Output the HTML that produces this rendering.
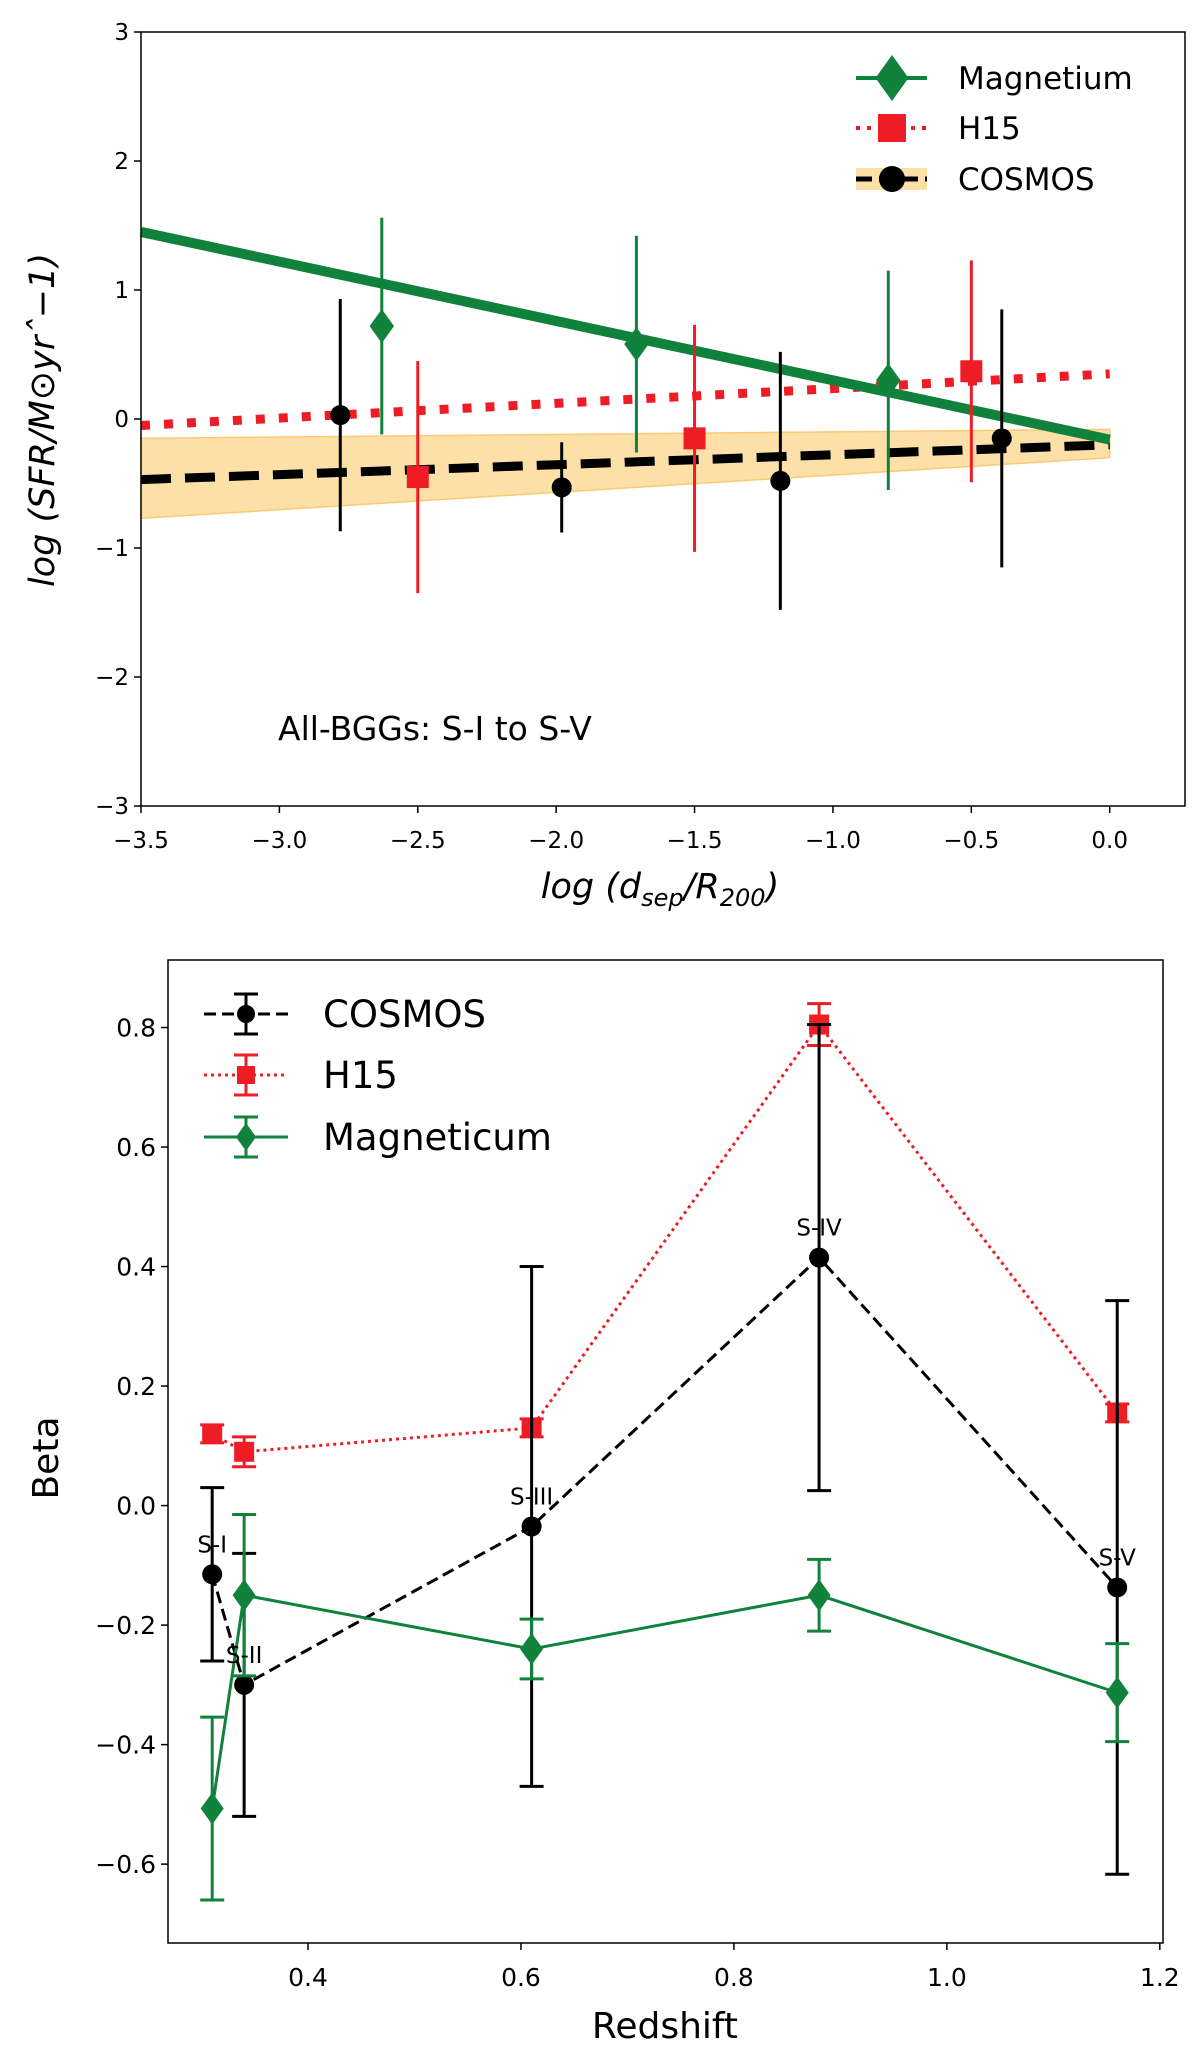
<!DOCTYPE html>
<html><head><meta charset="utf-8"><style>
body{margin:0;background:#fff}
svg{display:block}
text{font-family:"DejaVu Sans","Liberation Sans",sans-serif;fill:#000}
</style></head><body>
<svg id="c" width="1200" height="2067" xmlns="http://www.w3.org/2000/svg"></svg>
<script>
// ---- Top panel data ----
const topXTicks=[-3.5,-3.0,-2.5,-2.0,-1.5,-1.0,-0.5,0.0];
const topYTicks=[-3,-2,-1,0,1,2,3];
const cosX=[-2.78,-1.98,-1.19,-0.39];
const cosY=[0.03,-0.53,-0.48,-0.15];
const cosE=[0.9,0.35,1.0,1.0];
const h15X=[-2.5,-1.5,-0.5];
const h15Y=[-0.45,-0.15,0.37];
const h15E=[0.9,0.88,0.86];
const magX=[-2.63,-1.71,-0.8];
const magY=[0.72,0.58,0.3];
const magE=[0.84,0.84,0.85];
const fitX=[-3.5,0];
const magFit=[1.45,-0.16];
const h15Fit=[-0.05,0.35];
const cosFit=[-0.47,-0.2];
const bandLo=[-0.77,-0.3];
const bandHi=[-0.15,-0.08];
// ---- Bottom panel data ----
const zVals=[0.31,0.34,0.61,0.88,1.16];
const bXTicks=[0.4,0.6,0.8,1.0,1.2];
const bYTicks=[-0.6,-0.4,-0.2,0.0,0.2,0.4,0.6,0.8];
const betaCos=[-0.115,-0.30,-0.035,0.415,-0.137];
const errCos=[0.145,0.22,0.435,0.39,0.48];
const betaH15=[0.12,0.09,0.13,0.805,0.155];
const errH15=[0.015,0.025,0.015,0.035,0.015];
const betaMag=[-0.507,-0.15,-0.24,-0.15,-0.313];
const errMag=[0.153,0.135,0.05,0.06,0.082];
const sLabels=["S-I","S-II","S-III","S-IV","S-V"];

const svg=document.getElementById('c');
const NS="http://www.w3.org/2000/svg";
function el(tag,attrs,parent){const e=document.createElementNS(NS,tag);for(const k in attrs)e.setAttribute(k,attrs[k]);(parent||svg).appendChild(e);return e;}
const GREEN="#11823b",RED="#ee1c25";

// ===== TOP =====
const T={l:141,r:1185,t:32,b:806,x0:-3.5,x1:0.272,y0:-3,y1:3};
const tx=v=>T.l+(v-T.x0)/(T.x1-T.x0)*(T.r-T.l);
const ty=v=>T.b-(v-T.y0)/(T.y1-T.y0)*(T.b-T.t);
const gT=el('g',{});


let band=el('polygon',{points:`${tx(fitX[0])},${ty(bandHi[0])} ${tx(fitX[1])},${ty(bandHi[1])} ${tx(fitX[1])},${ty(bandLo[1])} ${tx(fitX[0])},${ty(bandLo[0])}`,fill:"#fde0a8",stroke:"#fcc976","stroke-width":1.5},gT);


let l1=el('line',{x1:tx(fitX[0]),y1:ty(cosFit[0]),x2:tx(fitX[1]),y2:ty(cosFit[1]),stroke:"#000","stroke-width":9,"stroke-dasharray":"30,14"},gT);


let l2=el('line',{x1:tx(fitX[0]),y1:ty(h15Fit[0]),x2:tx(fitX[1]),y2:ty(h15Fit[1]),stroke:RED,"stroke-width":9,"stroke-dasharray":"9,14"},gT);


let l3=el('line',{x1:tx(fitX[0]),y1:ty(magFit[0]),x2:tx(fitX[1]),y2:ty(magFit[1]),stroke:GREEN,"stroke-width":10},gT);


function marker(kind,cx,cy,s,color,parent){
  let m;
  if(kind==='o')m=el('circle',{cx,cy,r:s/2,fill:color},parent);
  else if(kind==='s')m=el('rect',{x:cx-s/2,y:cy-s/2,width:s,height:s,fill:color},parent);
  else m=el('polygon',{points:`${cx},${cy-s/2} ${cx+s*0.36},${cy} ${cx},${cy+s/2} ${cx-s*0.36},${cy}`,fill:color},parent);
  return m;
}
function topSeries(xs,ys,es,color,kind,size,name){
  const g=el('g',{},gT);
  
  
  xs.forEach((x,i)=>{
    const eb=el('line',{x1:tx(x),x2:tx(x),y1:ty(ys[i]-es[i]),y2:ty(ys[i]+es[i]),stroke:color,"stroke-width":3},g);
    
    
    const m=marker(kind,tx(x),ty(ys[i]),size,color,g);
    
    
  });
}
topSeries(magX,magY,magE,GREEN,'d',34,'magnetium');
topSeries(h15X,h15Y,h15E,RED,'s',22,'h15');
topSeries(cosX,cosY,cosE,"#000",'o',20,'cosmos');
let fr=el('rect',{x:T.l,y:T.t,width:T.r-T.l,height:T.b-T.t,fill:"none",stroke:"#000","stroke-width":1.5},gT);


topXTicks.forEach(v=>{
  el('line',{x1:tx(v),x2:tx(v),y1:T.b,y2:T.b+7,stroke:"#000","stroke-width":1.5},gT);
  const t=el('text',{x:tx(v),y:848,"text-anchor":"middle","font-size":23},gT);
  t.textContent=v.toFixed(1).replace('-','\u2212');
  
  
});
topYTicks.forEach(v=>{
  el('line',{x1:T.l-7,x2:T.l,y1:ty(v),y2:ty(v),stroke:"#000","stroke-width":1.5},gT);
  const t=el('text',{x:T.l-12,y:ty(v)+8,"text-anchor":"end","font-size":23},gT);
  t.textContent=String(v).replace('-','\u2212');
  
  
});
let xl=el('text',{x:660,y:898,"text-anchor":"middle","font-size":35,"font-style":"italic"},gT);
xl.innerHTML='log (d<tspan font-size="24" dy="8">sep</tspan><tspan dy="-8">/R</tspan><tspan font-size="24" dy="8">200</tspan><tspan dy="-8">)</tspan>';


let yl=el('text',{x:0,y:0,"text-anchor":"middle","font-size":35,"font-style":"italic",transform:"translate(54,420) rotate(-90)"},gT);
yl.textContent='log (SFR/M\u2299yr\u02c6\u22121)';


let ann=el('text',{x:278,y:740,"font-size":33},gT);
ann.textContent='All-BGGs: S-I to S-V';


const tl=el('g',{},gT);


function legendRow(parent,y,x0,x1,mx,color,dash,width,kind,size,label,tx0,fs,name,bandBg){
  const g=el('g',{},parent);
  
  
  if(bandBg)el('rect',{x:x0,y:y-11,width:x1-x0,height:22,fill:"#fde0a8"},g);
  el('line',{x1:x0,x2:x1,y1:y,y2:y,stroke:color,"stroke-width":width,"stroke-dasharray":dash},g);
  marker(kind,mx,y,size,color,g);
  const t=el('text',{x:tx0,y:y+fs*0.36,"font-size":fs},g);
  t.textContent=label;
  return g;
}
legendRow(tl,78,856,927,892,GREEN,"none",4,'d',46,'Magnetium',958,31,'legend-entry-magnetium',false);
legendRow(tl,128,856,927,892,RED,"4,7",4,'s',28,'H15',958,31,'legend-entry-h15',false);
legendRow(tl,179,856,927,892,"#000","16,7",5,'o',26,'COSMOS',958,31,'legend-entry-cosmos',true);

// ===== BOTTOM =====
const B={l:168,r:1163,t:960,b:1943,x0:0.2685,x1:1.203,y0:-0.732,y1:0.913};
const bx=v=>B.l+(v-B.x0)/(B.x1-B.x0)*(B.r-B.l);
const by=v=>B.b-(v-B.y0)/(B.y1-B.y0)*(B.b-B.t);
const gB=el('g',{});


function botSeries(ys,es,color,dash,kind,size,name){
  const g=el('g',{},gB);
  
  
  const p=el('polyline',{points:zVals.map((z,i)=>bx(z)+','+by(ys[i])).join(' '),fill:"none",stroke:color,"stroke-width":3,"stroke-dasharray":dash},g);
  
  
  zVals.forEach((z,i)=>{
    const x=bx(z),y1=by(ys[i]+es[i]),y2=by(ys[i]-es[i]);
    const e=el('path',{d:`M${x},${y1}V${y2}M${x-12},${y1}H${x+12}M${x-12},${y2}H${x+12}`,stroke:color,"stroke-width":3,fill:"none"},g);
    
    
    const m=marker(kind,x,by(ys[i]),size,color,g);
    
    
  });
}
botSeries(betaH15,errH15,RED,"3,4",'s',20,'h15');
botSeries(betaCos,errCos,"#000","12,6",'o',20,'cosmos');
botSeries(betaMag,errMag,GREEN,"none",'d',32,'magneticum');
sLabels.forEach((s,i)=>{
  const t=el('text',{x:bx(zVals[i]),y:by(betaCos[i])-22,"text-anchor":"middle","font-size":23},gB);
  t.textContent=s;
  
  
});
let fr2=el('rect',{x:B.l,y:B.t,width:B.r-B.l,height:B.b-B.t,fill:"none",stroke:"#000","stroke-width":1.5},gB);


bXTicks.forEach(v=>{
  el('line',{x1:bx(v),x2:bx(v),y1:B.b,y2:B.b+7,stroke:"#000","stroke-width":1.5},gB);
  const t=el('text',{x:bx(v),y:1986,"text-anchor":"middle","font-size":25},gB);
  t.textContent=v.toFixed(1);
  
  
});
bYTicks.forEach(v=>{
  el('line',{x1:B.l-7,x2:B.l,y1:by(v),y2:by(v),stroke:"#000","stroke-width":1.5},gB);
  const t=el('text',{x:B.l-12,y:by(v)+9,"text-anchor":"end","font-size":25},gB);
  t.textContent=v.toFixed(1).replace('-','\u2212');
  
  
});
let xl2=el('text',{x:665,y:2038,"text-anchor":"middle","font-size":36},gB);
xl2.textContent='Redshift';


let yl2=el('text',{x:0,y:0,"text-anchor":"middle","font-size":36,transform:"translate(58,1458) rotate(-90)"},gB);
yl2.textContent='Beta';


const bl=el('g',{},gB);


function bLeg(y,color,dash,kind,size,label,name){
  const g=el('g',{},bl);
  
  
  el('line',{x1:204,x2:288,y1:y,y2:y,stroke:color,"stroke-width":3,"stroke-dasharray":dash},g);
  el('path',{d:`M246,${y-20}V${y+20}M234,${y-20}H258M234,${y+20}H258`,stroke:color,"stroke-width":3},g);
  marker(kind,246,y,size,color,g);
  const t=el('text',{x:323,y:y+13,"font-size":37},g);
  t.textContent=label;
}
bLeg(1014,"#000","12,6",'o',18,'COSMOS','legend-entry-cosmos');
bLeg(1075,RED,"3,4",'s',18,'H15','legend-entry-h15');
bLeg(1137,GREEN,"none",'d',28,'Magneticum','legend-entry-magneticum');
</script>
</body></html>
